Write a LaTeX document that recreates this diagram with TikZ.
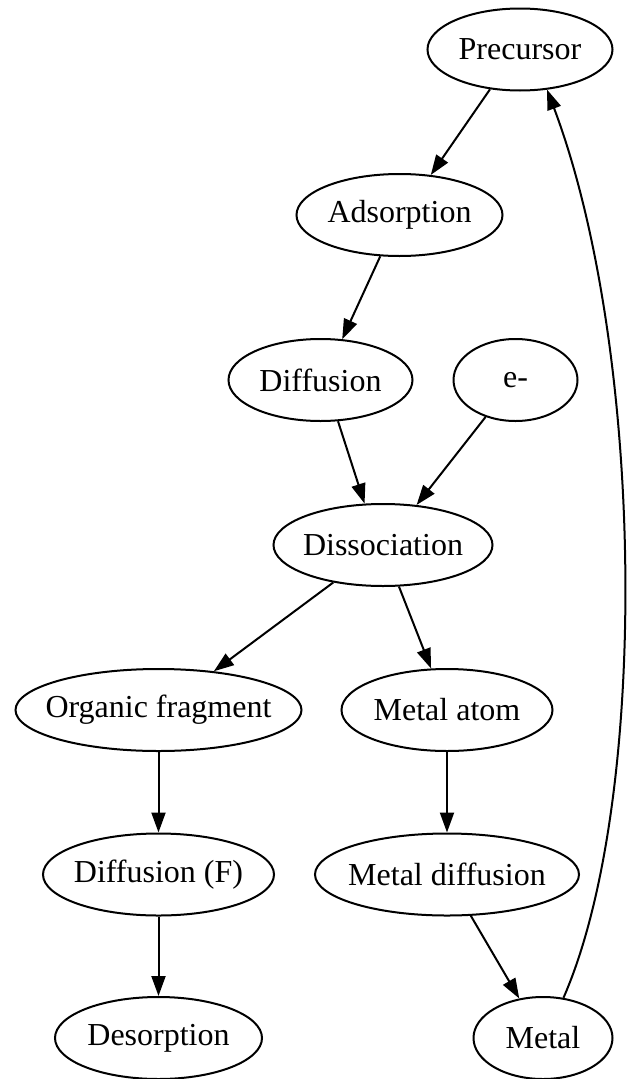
\documentclass[tikz,border=0pt]{standalone}
\usepackage{fontspec}
\setmainfont{Liberation Serif}
\usetikzlibrary{shapes.geometric,arrows.meta}
\newcommand{\nolbl}[1]{\makebox[0pt]{#1}}
\begin{document}
\begin{tikzpicture}[x=1pt,y=-1pt,
  every node/.style={font=\fontsize{32}{38}\selectfont},
  st/.style={draw,ellipse,line width=2pt,inner sep=0pt,minimum height=82pt},
  ed/.style={line width=2pt,-{Triangle[length=20pt,width=14pt]}}]
\useasboundingbox (0,0) rectangle (630,1079);
\node[st,minimum width=185pt] (prec) at (520,49.5) {\nolbl{Precursor}};
\node[st,minimum width=206pt] (ads) at (399.5,215) {\nolbl{Adsorption}};
\node[st,minimum width=184pt] (dif) at (320.5,380) {\nolbl{Diffusion}};
\node[st,minimum width=124pt] (el) at (515.5,380) {\nolbl{e-}};
\node[st,minimum width=219pt] (dis) at (383,545) {\nolbl{Dissociation}};
\node[st,minimum width=286pt] (org) at (158.5,710) {\nolbl{Organic fragment}};
\node[st,minimum width=211pt] (ma) at (447,710) {\nolbl{Metal atom}};
\node[st,minimum width=231pt] (dff) at (158.5,874.5) {\nolbl{Diffusion (F)}};
\node[st,minimum width=264pt] (md) at (447,874.5) {\nolbl{Metal diffusion}};
\node[st,minimum width=207pt] (des) at (158.5,1038) {\nolbl{Desorption}};
\node[st,minimum width=139pt] (met) at (543,1038) {\nolbl{Metal}};
\draw[ed] (prec.-127) -- (ads.52);
\draw[ed] (ads.-115) -- (dif.62);
\draw[ed] (dif.-67) -- (dis.114);
\draw[ed] (el.-129) -- (dis.50);
\draw[ed] (dis.-143) -- (org.35);
\draw[ed] (dis.-69) -- (ma.111);
\draw[ed] (org.south) -- (dff.north);
\draw[ed] (dff.south) -- (des.north);
\draw[ed] (ma.south) -- (md.north);
\draw[ed] (md.-60) -- (met.121);
\draw[ed] (met.63) .. controls (650,800) and (645,350) .. (prec.-56);
\end{tikzpicture}
\end{document}
